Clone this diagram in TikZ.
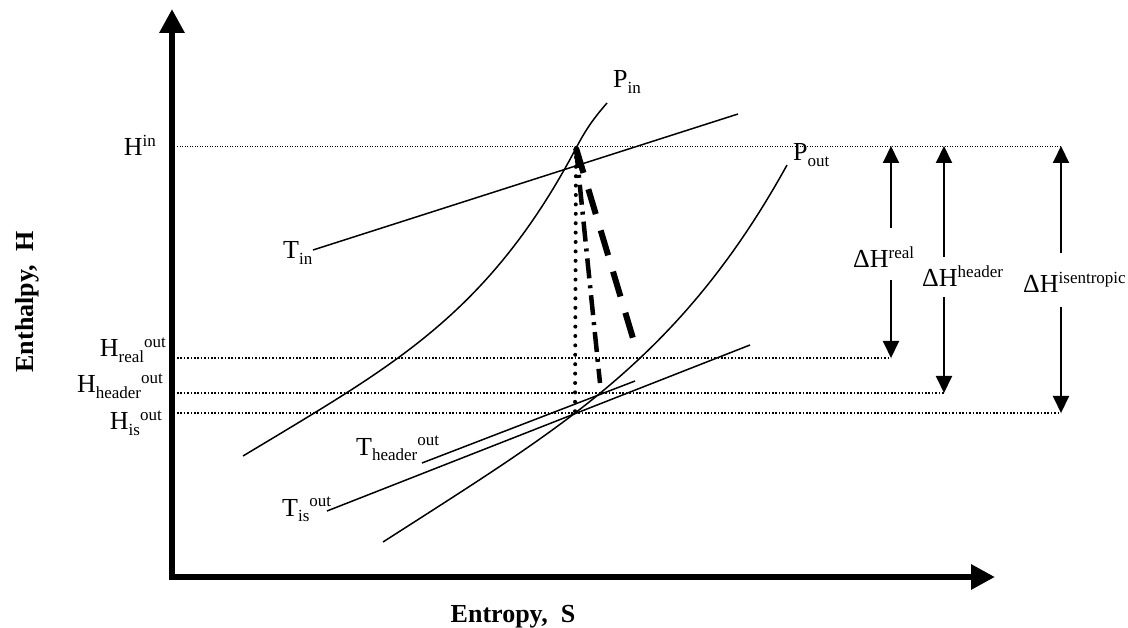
\documentclass[tikz,border=0pt]{standalone}
\usepackage{fontspec}
\setmainfont{Liberation Serif}
\usepackage{tikz}
\usetikzlibrary{arrows.meta,calc}
\newcommand{\hsup}[1]{\raisebox{0.36em}{\fontsize{17}{17}\selectfont #1}}
\newcommand{\hsub}[1]{\raisebox{-0.2em}{\fontsize{17}{17}\selectfont #1}}

\begin{document}
\begin{tikzpicture}[
    x=1pt, y=-1pt,
    lab/.style={font=\fontsize{26}{30}\selectfont, inner sep=0pt},
    axlab/.style={font=\fontsize{26}{30}\selectfont\bfseries, inner sep=0pt},
    axis/.style={line width=6pt, -{Triangle[length=24pt, width=24pt]}},
    curve/.style={line width=1.5pt},
    level/.style={line width=1.6pt, dash pattern=on 1.6pt off 1.8pt},
    dh/.style={line width=2pt, -{Triangle[length=17pt, width=16pt]}},
    >=Triangle
]
  \useasboundingbox (0,0) rectangle (1128,628);

  % axes
  \coordinate (o) at (172,577);
  \coordinate (ytop) at (172,9);
  \coordinate (xend) at (995,577);
  \draw[axis] ([yshift=-3pt]o) -- (ytop);
  \draw[axis] ([xshift=-3pt]o) -- (xend);
  \node[axlab, rotate=90, anchor=base] (ylab) at (33,302) {Enthalpy,~~H};
  \node[axlab, anchor=base] (xlab) at (513,622) {Entropy,~~S};

  % enthalpy levels
  \coordinate (hin) at (177,146);
  \coordinate (hreal) at (177,358);
  \coordinate (hhead) at (177,393);
  \coordinate (his) at (177,413);
  \coordinate (rx) at (891,0);
  \coordinate (hx) at (944,0);
  \coordinate (ix) at (1061,0);
  \draw[line width=0.9pt, dash pattern=on 0.9pt off 1.6pt] (hin) -- (hin -| ix);
  \draw[level] (hreal) -- (hreal -| rx);
  \draw[level] (hhead) -- (hhead -| hx);
  \draw[level] (his) -- (his -| ix);

  \node[lab, anchor=base east] (hinlab) at (156,156) {H\hsup{in}};
  \node[lab, anchor=base east] (hreallab) at (166,357) {H\hsub{real}\hsup{out}};
  \node[lab, anchor=base east] (hheadlab) at (163,393) {H\hsub{header}\hsup{out}};
  \node[lab, anchor=base east] (hislab) at (162,430) {H\hsub{is}\hsup{out}};

  % isobars
  \draw[curve] plot[domain=243:576, samples=60] (\x, {456-0.6*(\x-243)-0.878*((\x-243)/100)^4})
    .. controls (586,129) and (594,118) .. (607,103);
  \draw[curve] plot[domain=383:787, samples=60] (\x, {542-0.64*(\x-383)-0.4444*((\x-383)/100)^4});
  \node[lab, anchor=base west] (pin) at (613,88) {P\hsub{in}};
  \node[lab, anchor=base west] (pout) at (793,161) {P\hsub{out}};

  % isotherms
  \draw[curve] (313,250) -- (738,114);
  \draw[curve] (422,463) -- (635,381);
  \draw[curve] (327,511) -- (750,345);
  \node[lab, anchor=base west] (tin) at (283,259) {T\hsub{in}};
  \node[lab, anchor=base west] (thead) at (356,455) {T\hsub{header}\hsup{out}};
  \node[lab, anchor=base west] (tis) at (282,516) {T\hsub{is}\hsup{out}};

  % expansion paths
  \coordinate (in) at (576,148);
  \coordinate (ispt) at (575,413);
  \coordinate (headpt) at (600,383);
  \coordinate (realpt) at (635,345);
  \draw[line width=4pt, line cap=round, dash pattern=on 0pt off 9.4pt] (in) -- (ispt);
  \draw[line width=4.5pt, dash pattern=on 20pt off 7pt on 3pt off 7pt] (in) -- (headpt);
  \draw[line width=6pt, dash pattern=on 26pt off 17pt] (in) -- (realpt);

  % enthalpy drops
  \node[lab, anchor=base west] (dhreal) at (853,268) {ΔH\hsup{real}};
  \node[lab, anchor=base west] (dhhead) at (922,287) {ΔH\hsup{header}};
  \node[lab, anchor=base west] (dhis) at (1023,293) {ΔH\hsup{isentropic}};
  \draw[dh, shorten <=19pt] (dhreal.north -| rx) -- (hin -| rx);
  \draw[dh, shorten <=12pt] (dhreal.south -| rx) -- (hreal -| rx);
  \draw[dh, shorten <=9pt] (dhhead.north -| hx) -- (hin -| hx);
  \draw[dh, shorten <=10pt] (dhhead.south -| hx) -- (hhead -| hx);
  \draw[dh, shorten <=19pt] (dhis.north -| ix) -- (hin -| ix);
  \draw[dh, shorten <=14pt] (dhis.south -| ix) -- (his -| ix);
\end{tikzpicture}
\end{document}
